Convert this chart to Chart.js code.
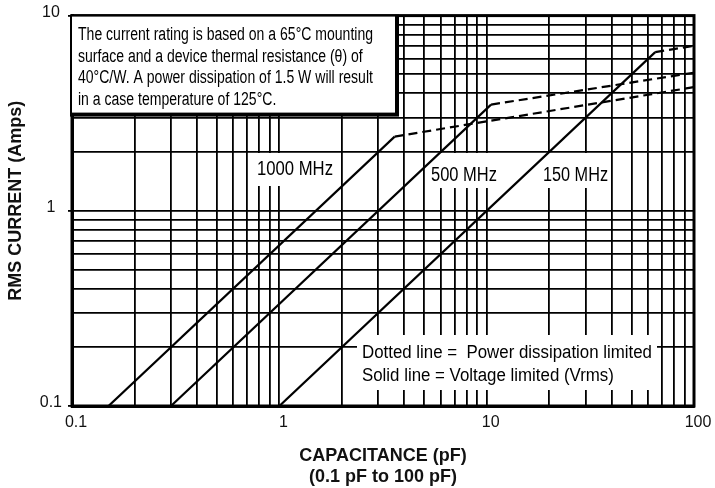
<!DOCTYPE html>
<html>
<head>
<meta charset="utf-8">
<script src="https://cdn.jsdelivr.net/npm/chart.js@4.4.1/dist/chart.umd.min.js"></script>
<style>
  html, body { margin: 0; padding: 0; background: #fff; }
  #wrap { width: 715px; height: 488px; }
</style>
</head>
<body>
<div id="wrap"><canvas id="currentChart"></canvas></div>
<script>
// capacitance (pF) vs RMS current (A); middle point is where the voltage limit
// (solid) hands over to the power dissipation limit (dashed)
const capacitance1000 = [0.15, 3.6, 100];
const current1000 = [0.1, 2.4, 4.3];
const capacitance500 = [0.3, 10.5, 100];
const current500 = [0.1, 3.5, 5.1];
const capacitance150 = [1, 65, 100];
const current150 = [0.1, 6.5, 7.0];

// log grid, one line per 1..9 of every decade
const xTickValues = [0.1, 0.2, 0.3, 0.4, 0.5, 0.6, 0.7, 0.8, 0.9,
                     1, 2, 3, 4, 5, 6, 7, 8, 9,
                     10, 20, 30, 40, 50, 60, 70, 80, 90, 100];
const yTickValues = [0.1, 0.2, 0.3, 0.4, 0.5, 0.6, 0.7, 0.8, 0.9,
                     1, 2, 3, 4, 5, 6, 7, 8, 9, 10];
const xTickLabels = ['0.1', '1', '10', '100'];
const yTickLabels = ['0.1', '1', '10'];

const noteFont = "'Liberation Sans', Arial, sans-serif";
const tickFont = { family: "'Liberation Sans', Arial, sans-serif", size: 16 };
const titleFont = { family: "'Liberation Sans', Arial, sans-serif", size: 18, weight: 'bold', lineHeight: 1.17 };

function toPoints(xs, ys) {
    return xs.map((x, i) => ({ x: x, y: ys[i] }));
}

function curve(label, xs, ys) {
    return {
        label: label,
        data: toPoints(xs, ys),
        showLine: true,
        borderColor: '#000',
        borderWidth: 2.2,
        pointRadius: 0,
        segment: {
            // past the knee the limit is power dissipation -> dashed
            borderDash: ctx => ctx.p0DataIndex >= 1 ? [9, 5] : undefined
        }
    };
}

// draws text squeezed horizontally to a given width (condensed face look)
function squeezeText(ctx, text, x, y, sx) {
    ctx.save();
    ctx.translate(x, y);
    ctx.scale(sx, 1);
    ctx.fillText(text, 0, 0);
    ctx.restore();
}

function whiteBox(ctx, x0, y0, x1, y1) {
    ctx.fillStyle = '#fff';
    ctx.fillRect(x0, y0, x1 - x0, y1 - y0);
}

const notes = {
    id: 'notes',
    beforeDatasetsDraw(chart) {
        const { ctx, chartArea: a } = chart;
        ctx.save();

        // frame round the whole plot
        ctx.strokeStyle = '#000';
        ctx.lineWidth = 3;
        ctx.strokeRect(a.left, a.top, a.right - a.left, a.bottom - a.top);

        // info box, shadowed on right and bottom
        ctx.fillStyle = '#000';
        ctx.fillRect(a.left - 2, a.top - 1, 329, 102);
        whiteBox(ctx, a.left, a.top + 1, a.left + 323, a.top + 97);
        const info = [
            'The current rating is based on a 65\u00B0C mounting',
            'surface and a device thermal resistance (\u03B8) of',
            '40\u00B0C/W. A power dissipation of 1.5 W will result',
            'in a case temperature of 125\u00B0C.'
        ];
        ctx.fillStyle = '#000';
        ctx.textBaseline = 'alphabetic';
        ctx.textAlign = 'left';
        ctx.font = '18px ' + noteFont;
        let sx = 295 / ctx.measureText(info[0]).width;
        info.forEach((line, i) => squeezeText(ctx, line, 78, 40 + i * 21.7, sx));

        // curve labels
        const labels = [
            { text: '1000 MHz', x: 257, y: 175, w: 76, box: [251, 153, 339, 186] },
            { text: '500 MHz', x: 431, y: 181, w: 66, box: [427, 153, 501, 188] },
            { text: '150 MHz', x: 543, y: 181, w: 65, box: [539, 153, 609, 188] }
        ];
        ctx.font = '20px ' + noteFont;
        labels.forEach(l => {
            whiteBox(ctx, l.box[0], l.box[1], l.box[2], l.box[3]);
            ctx.fillStyle = '#000';
            squeezeText(ctx, l.text, l.x, l.y, l.w / ctx.measureText(l.text).width);
        });

        // key for line styles
        const key = [
            'Dotted line =  Power dissipation limited',
            'Solid line = Voltage limited (Vrms)'
        ];
        whiteBox(ctx, 357, 335, 657, 390);
        ctx.fillStyle = '#000';
        ctx.font = '18px ' + noteFont;
        sx = 290 / ctx.measureText(key[0]).width;
        key.forEach((line, i) => squeezeText(ctx, line, 362, 358 + i * 23, sx));

        ctx.restore();
    }
};

const ctx = document.getElementById('currentChart').getContext('2d');

const currentChart = new Chart(ctx, {
    type: 'scatter',
    data: {
        datasets: [
            curve('1000 MHz', capacitance1000, current1000),
            curve('500 MHz', capacitance500, current500),
            curve('150 MHz', capacitance150, current150)
        ]
    },
    plugins: [notes],
    options: {
        responsive: true,
        maintainAspectRatio: false,
        animation: false,
        layout: {
            padding: { top: 14, right: 21, left: 0, bottom: 0 }
        },
        plugins: {
            legend: { display: false },
            tooltip: { enabled: false }
        },
        scales: {
            x: {
                type: 'logarithmic',
                min: 0.1,
                max: 100,
                afterBuildTicks: scale => {
                    scale.ticks = xTickValues.map(v => ({ value: v }));
                },
                afterFit: scale => {
                    scale.height = 82;
                },
                grid: {
                    color: '#000',
                    lineWidth: 1.8,
                    drawTicks: false
                },
                border: { color: '#000', width: 3 },
                ticks: {
                    autoSkip: false,
                    maxRotation: 0,
                    padding: 7,
                    labelOffset: 4,
                    color: '#111',
                    font: tickFont,
                    callback: value => xTickLabels.includes(String(value)) ? String(value) : ''
                },
                title: {
                    display: true,
                    text: ['CAPACITANCE (pF)', '(0.1 pF to 100 pF)'],
                    color: '#111',
                    font: titleFont,
                    padding: { top: 0, bottom: 0 }
                }
            },
            y: {
                type: 'logarithmic',
                min: 0.1,
                max: 10,
                afterBuildTicks: scale => {
                    scale.ticks = yTickValues.map(v => ({ value: v }));
                },
                afterFit: scale => {
                    scale.width = 72;
                },
                grid: {
                    color: '#000',
                    lineWidth: 1.8,
                    tickLength: 4,
                    tickColor: c => yTickLabels.includes(String(c.tick.value)) ? '#000' : 'rgba(0,0,0,0)'
                },
                border: { color: '#000', width: 3 },
                ticks: {
                    autoSkip: false,
                    padding: 6,
                    crossAlign: 'center',
                    labelOffset: -3,
                    color: '#111',
                    font: tickFont,
                    callback: value => yTickLabels.includes(String(value)) ? String(value) : ''
                },
                title: {
                    display: true,
                    // leading spaces lift the title a little above the axis centre
                    text: '    RMS CURRENT (Amps)',
                    color: '#111',
                    font: titleFont,
                    padding: { top: 6, bottom: 0 }
                }
            }
        }
    }
});
</script>
</body>
</html>
